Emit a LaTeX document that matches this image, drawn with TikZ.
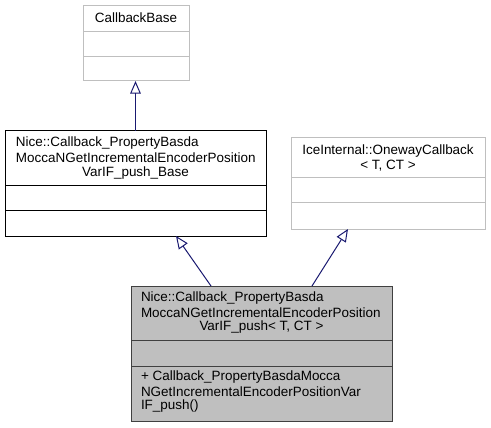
\documentclass[tikz,border=0pt]{standalone}
\usepackage{fontspec}
\setmainfont{Liberation Sans}
\usetikzlibrary{arrows.meta,fit,calc}
\definecolor{edgeblue}{HTML}{191970}
\definecolor{lgray}{HTML}{BFBFBF}
\definecolor{dgray}{HTML}{404040}
\begin{document}
\begin{tikzpicture}[x=0.75pt,y=-0.75pt,
  box/.style={draw, line width=0.75pt, inner sep=0pt, outer sep=0pt},
  greybox/.style={box, draw=lgray},
  plainbox/.style={box, draw=black, fill=white},
  curbox/.style={box, draw=dgray, fill=lgray},
  txt/.style={inner sep=0pt, outer sep=0pt, font=\fontsize{10.1}{11}\selectfont},
  lt/.style={txt, anchor=west},
  inh/.style={draw=edgeblue, line width=0.75pt, -{Triangle[open, length=9.5pt, width=8pt]}}]
\useasboundingbox (0,0) rectangle (491,427);
% CallbackBase
\node[greybox, fit={(83,6) (189,81)}] (cb) {};
\draw[lgray, line width=0.75pt] (cb.west |- 0,32) -- (cb.east |- 0,32);
\draw[lgray, line width=0.75pt] (cb.west |- 0,57) -- (cb.east |- 0,57);
\node[txt] (cbt) at (136,18) {CallbackBase};
% Base class
\node[plainbox, fit={(5,131) (266,236)}] (base) {};
\draw[black, line width=0.75pt] (base.west |- 0,186) -- (base.east |- 0,186);
\draw[black, line width=0.75pt] (base.west |- 0,211) -- (base.east |- 0,211);
\node[lt] (b1) at (16,143) {Nice::Callback\_PropertyBasda};
\node[lt] (b2) at (16,158) {MoccaNGetIncrementalEncoderPosition};
\node[txt] (b3) at (135.5,173) {VarIF\_push\_Base};
% IceInternal
\node[greybox, fit={(291,138) (485,229)}] (ice) {};
\draw[lgray, line width=0.75pt] (ice.west |- 0,178) -- (ice.east |- 0,178);
\draw[lgray, line width=0.75pt] (ice.west |- 0,203) -- (ice.east |- 0,203);
\node[txt] (i1) at (388,151) {IceInternal::OnewayCallback};
\node[txt] (i2) at (388,165.5) {< T, CT >};
% Current class
\node[curbox, fit={(131,286) (392,421)}] (cur) {};
\draw[dgray, line width=0.75pt] (cur.west |- 0,340) -- (cur.east |- 0,340);
\draw[dgray, line width=0.75pt] (cur.west |- 0,366) -- (cur.east |- 0,366);
\node[lt] (c1) at (141,298) {Nice::Callback\_PropertyBasda};
\node[lt] (c2) at (141,312.5) {MoccaNGetIncrementalEncoderPosition};
\node[txt] (c3) at (261.5,327) {VarIF\_push< T, CT >};
\node[lt] (m1) at (141,377) {+ Callback\_PropertyBasdaMocca};
\node[lt] (m2) at (141,391.5) {NGetIncrementalEncoderPositionVar};
\node[lt] (m3) at (141,406) {IF\_push()};
% Inheritance edges
\draw[inh] (base.north) -- (base.north |- cb.south);
\draw[inh] ($(cur.north west)+(80,0)$) -- ($(base.south west)+(171,0)$);
\draw[inh] ($(cur.north west)+(181,0)$) -- ($(ice.south west)+(57,0)$);
\end{tikzpicture}
\end{document}
